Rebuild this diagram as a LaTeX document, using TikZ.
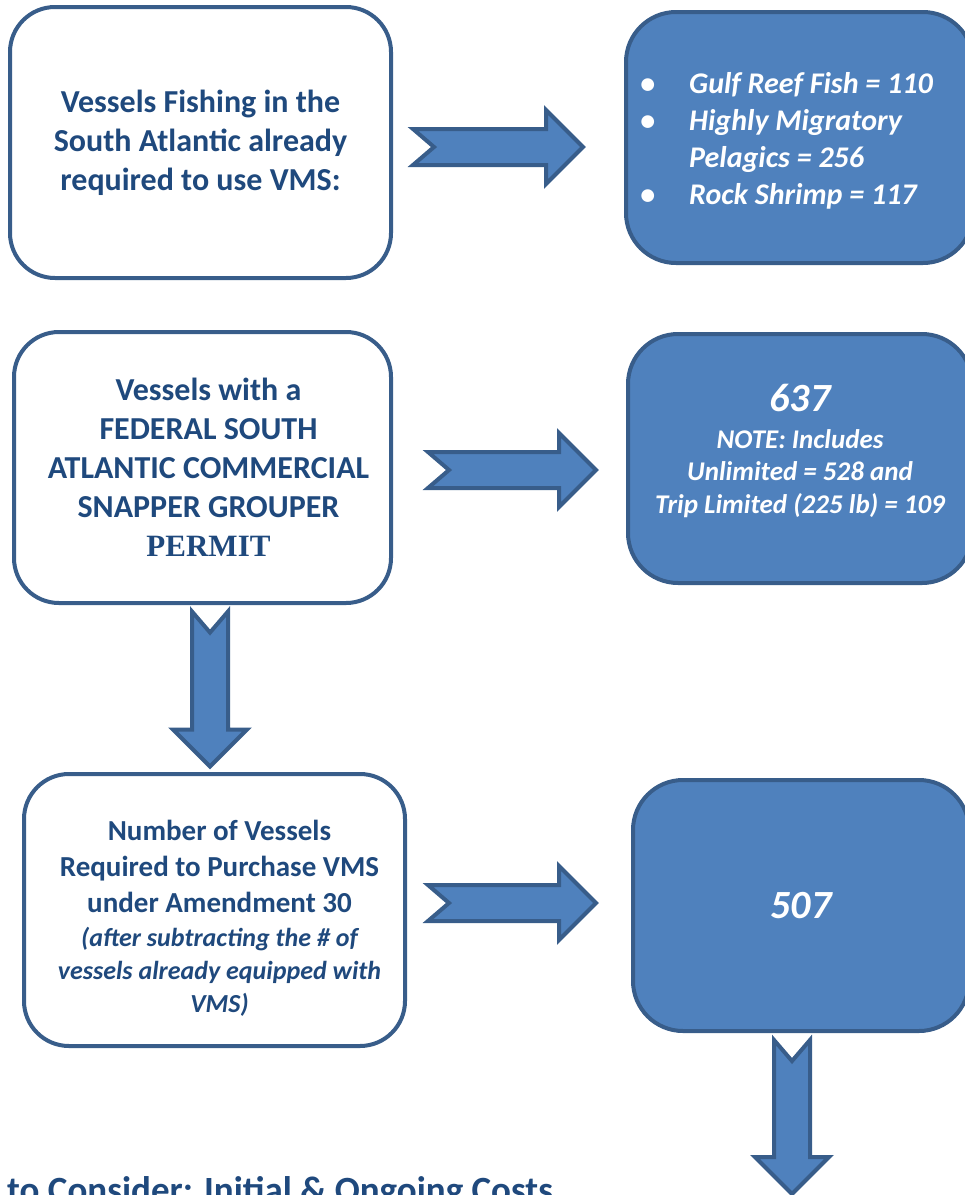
\documentclass[tikz,border=0pt]{standalone}
\usepackage{fontspec}
\setmainfont{Carlito}
\newfontfamily\permitfont{Liberation Serif}
\usetikzlibrary{positioning}
\definecolor{navytext}{HTML}{1F497D}
\definecolor{boxblue}{HTML}{4F81BD}
\definecolor{boxedge}{HTML}{385D8A}
\tikzset{
    whitebox/.style={draw=boxedge, line width=4pt, fill=white, rounded corners=45pt,
        align=center, text=navytext, font=\bfseries\fontsize{32}{39}\selectfont},
    bluebox/.style={draw=boxedge, line width=4pt, fill=boxblue, rounded corners=50pt,
        align=center, text=white, font=\bfseries\itshape\fontsize{30}{37}\selectfont},
    navylabel/.style={align=center, inner sep=0pt, text=navytext, font=\bfseries\fontsize{32}{39}\selectfont},
    whitelabel/.style={align=center, inner sep=0pt, text=white, font=\bfseries\itshape\fontsize{30}{37}\selectfont},
    arrowline/.style={draw=boxedge, fill=boxblue, line width=4pt, line join=miter},
    pics/blockarrow/.style={code={
        \filldraw[arrowline] (0,-18) -- ({#1-37},-18) -- ({#1-37},-37) -- (#1,0)
            -- ({#1-37},37) -- ({#1-37},18) -- (0,18) -- (21,0) -- cycle;
    }}
}

\begin{document}
\begin{tikzpicture}[x=1pt, y=-1pt]
\useasboundingbox (0,0) rectangle (965,1195);

% left column
\node[whitebox, minimum width=381pt, minimum height=271pt] (sa) at (200.5,142.5)
    {Vessels Fishing in the\\ South Atlantic already\\ required to use VMS:};
\node[whitebox, minimum width=377pt, minimum height=271pt,
    label={[navylabel, xshift=6pt]center:{Vessels with a\\ FEDERAL SOUTH\\ ATLANTIC COMMERCIAL\\ SNAPPER GROUPER\\
        {\permitfont\fontsize{31}{39}\selectfont PERMIT}}}] (sg) at (202.5,467.5) {};
\node[whitebox, minimum width=381pt, minimum height=272pt,
    label={[navylabel, xshift=5pt, yshift=-8pt, font=\bfseries\fontsize{29}{36}\selectfont]center:{Number of Vessels\\
        Required to Purchase VMS\\ under Amendment 30\\[-2pt]
        {\itshape\fontsize{26}{33}\selectfont (after subtracting the \# of}\\[-3pt]
        {\itshape\fontsize{26}{33}\selectfont vessels already equipped with}\\[-3pt]
        {\itshape\fontsize{26}{33}\selectfont VMS)}}}] (req) at (214.5,910) {};

% right column
\node[bluebox, minimum width=347pt, minimum height=251pt,
    label={[whitelabel, yshift=-4pt]center:{\begin{tabular}{@{}l@{\hspace{34pt}}l@{\hspace{26pt}}}
        \textbullet & Gulf Reef Fish = 110\\
        \textbullet & Highly Migratory\\
                    & Pelagics = 256\\
        \textbullet & Rock Shrimp = 117
        \end{tabular}}}] (other) at (799.5,137.5) {};
\node[bluebox, minimum width=344pt, minimum height=249pt,
    label={[whitelabel, yshift=8pt]center:{{\fontsize{40}{44}\selectfont 637}\\
        {\fontsize{27}{33}\selectfont NOTE: Includes}\\[-4.5pt]
        {\fontsize{27}{33}\selectfont Unlimited = 528 and}\\[-4.5pt]
        {\fontsize{27}{33}\selectfont Trip Limited (225 lb) = 109}}}] (total) at (800,458.5) {};
\node[bluebox, minimum width=336pt, minimum height=251pt, font=\bfseries\itshape\fontsize{40}{44}\selectfont] (net) at (801,905.5)
    {507};

% block arrows
\path (sa.east) ++(20,4.5) pic {blockarrow=170};
\path (sg.east) ++(35,2.5) pic {blockarrow=168};
\path (req.east) ++(21,-7) pic {blockarrow=168};
\path (sg.south) ++(7.5,6.5) pic[rotate=-90] {blockarrow=155};
\path (net.south) ++(-9,7) pic[rotate=-90] {blockarrow=154};

\node[anchor=base west, inner sep=0pt, text=navytext, font=\bfseries\fontsize{37}{44}\selectfont] (costs) at (7,1202)
    {to Consider: Initial \& Ongoing Costs};

\end{tikzpicture}
\end{document}
